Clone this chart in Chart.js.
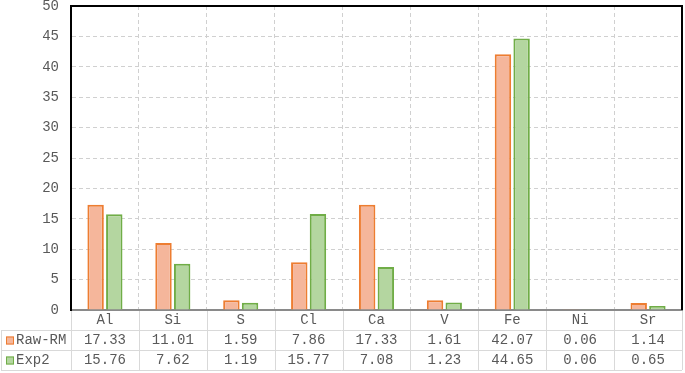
<!DOCTYPE html>
<html>
<head>
<meta charset="utf-8">
<script src="https://cdn.jsdelivr.net/npm/chart.js@4"></script>
<style>
  body { margin: 0; background: #fff; }
  canvas { display: block; }
</style>
</head>
<body>
<canvas id="chart" width="685" height="373"></canvas>
<script>
const elements = ['Al', 'Si', 'S', 'Cl', 'Ca', 'V', 'Fe', 'Ni', 'Sr'];
const rawRM = [17.33, 11.01, 1.59, 7.86, 17.33, 1.61, 42.07, 0.06, 1.14];
const exp2 = [15.76, 7.62, 1.19, 15.77, 7.08, 1.23, 44.65, 0.06, 0.65];
const yTicks = [0, 5, 10, 15, 20, 25, 30, 35, 40, 45, 50];

const FONT = 'Liberation Mono, Courier New, monospace';
const TEXT = '#595959';
const TABLE_LINE = '#d9d9d9';

const series = [
  { label: 'Raw-RM', data: rawRM, fill: '#f5b69b', border: '#ed7d31' },
  { label: 'Exp2', data: exp2, fill: '#b4d6a0', border: '#70ad47' },
];

// draws the plot frame and the data table under the x axis
const dataTable = {
  id: 'dataTable',
  afterDraw(chart) {
    const { ctx, chartArea } = chart;
    const x = chart.scales.x;
    const { left, right, top, bottom } = chartArea;
    const rowH = 20;
    const tableBottom = bottom + rowH * 3;
    const colW = (right - left) / elements.length;

    ctx.save();
    // table lines
    ctx.strokeStyle = TABLE_LINE;
    ctx.lineWidth = 1;
    ctx.beginPath();
    for (let i = 0; i <= elements.length; i++) {
      const lx = Math.round(left + i * colW) + 0.5;
      ctx.moveTo(lx, bottom + 1);
      ctx.lineTo(lx, tableBottom);
    }
    for (let r = 1; r <= 3; r++) {
      const ly = bottom + r * rowH + 0.5;
      ctx.moveTo(1, ly);
      ctx.lineTo(right, ly);
    }
    ctx.moveTo(1.5, bottom + rowH);
    ctx.lineTo(1.5, tableBottom);
    ctx.stroke();

    // legend keys and values
    ctx.font = '14px ' + FONT;
    ctx.textBaseline = 'middle';
    series.forEach((s, r) => {
      const cy = bottom + rowH * (r + 1) + rowH / 2 + 0.5;
      ctx.fillStyle = s.fill;
      ctx.strokeStyle = s.border;
      ctx.fillRect(6, cy - 4, 8, 8);
      ctx.strokeRect(6.5, cy - 3.5, 7, 7);
      ctx.fillStyle = TEXT;
      ctx.textAlign = 'left';
      ctx.fillText(s.label, 16, cy);
      ctx.textAlign = 'center';
      s.data.forEach((v, i) => {
        ctx.fillText(v.toFixed(2), x.getPixelForValue(i), cy);
      });
    });

    // black frame on top and right of plot
    ctx.strokeStyle = '#000';
    ctx.lineWidth = 2;
    ctx.beginPath();
    ctx.moveTo(left, top);
    ctx.lineTo(right, top);
    ctx.lineTo(right, bottom);
    ctx.stroke();
    ctx.restore();
  }
};

new Chart(document.getElementById('chart'), {
  type: 'bar',
  data: {
    labels: elements,
    datasets: series.map((s) => ({
      label: s.label,
      data: s.data,
      backgroundColor: s.fill,
      borderColor: s.border,
      borderWidth: 2,
      categoryPercentage: 0.55,
      barPercentage: 0.88,
    })),
  },
  options: {
    responsive: false,
    animation: false,
    layout: { padding: { top: 6, right: 3, left: 0, bottom: 0 } },
    plugins: {
      legend: { display: false },
      tooltip: { enabled: false },
    },
    scales: {
      x: {
        grid: {
          color: '#d0d0d0',
          drawTicks: false,
        },
        border: { color: '#8a8a8a', width: 2, dash: [4, 3] },
        ticks: {
          color: TEXT,
          font: { family: FONT, size: 14 },
          padding: 2,
        },
        afterFit(scale) { scale.height = 63; },
      },
      y: {
        min: 0,
        max: 50,
        afterBuildTicks(scale) { scale.ticks = yTicks.map((v) => ({ value: v })); },
        grid: {
          color: '#d0d0d0',
          drawTicks: false,
        },
        border: { color: '#000', width: 2, dash: [4, 3] },
        ticks: {
          color: TEXT,
          font: { family: FONT, size: 14 },
          padding: 12,
        },
        afterFit(scale) {
          scale.width = 71;
          scale.paddingTop = 0;
          scale.paddingBottom = 0;
        },
      },
    },
  },
  plugins: [dataTable],
});
</script>
</body>
</html>
